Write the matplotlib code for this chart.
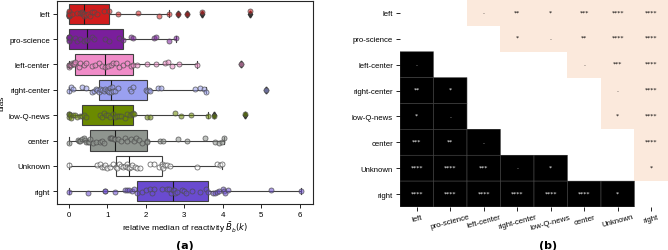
import numpy as np
import matplotlib
matplotlib.use("Agg")
from matplotlib import pyplot as plt
from matplotlib.colors import ListedColormap, to_rgba

plt.rcParams['font.family'] = ['Liberation Sans', 'DejaVu Sans']

biases = ['left', 'pro-science', 'left-center', 'right-center',
          'low-Q-news', 'center', 'Unknown', 'right']
colors = ['#d01c1c', '#7a1e9c', '#f08cc8', '#9aa0f0',
          '#6b8a00', '#8f958f', '#ffffff', '#6a4bd0']

# relative median of reactivity per bias
left_vals = [0, 0, 0, 0, 0, 0.005, 0.01, 0.01, 0.01,
             0.08, 0.2, 0.3, 0.33, 0.35, 0.37, 0.39, 0.4,
             0.45, 0.5, 0.55, 0.6, 0.65, 0.72, 0.9, 1.05,
             1.27, 1.8, 2.35, 2.6, 2.84, 3.06, 3.46, 4.70]
pro_science_vals = [0, 0, 0, 0, 0.01, 0.01, 0.01,
                    0.15, 0.22, 0.3, 0.38, 0.44, 0.48,
                    0.6, 0.65, 0.95, 1.05, 1.3, 1.4,
                    1.6, 1.67, 2.2, 2.25, 2.6, 2.77]
left_center_vals = [0, 0, 0.01, 0.02, 0.05, 0.08, 0.1, 0.12, 0.14, 0.17,
                    0.25, 0.3, 0.38, 0.45, 0.6, 0.68, 0.78, 0.85, 0.93,
                    1.02, 1.1, 1.15, 1.22, 1.3, 1.4, 1.5, 1.6, 1.67,
                    1.76, 2.03, 2.26, 2.49, 2.58, 2.67, 2.86, 3.32, 4.46]
right_center_vals = [0.01, 0.05, 0.1, 0.33, 0.45, 0.6, 0.65, 0.7, 0.72, 0.78,
                     0.8, 0.85, 0.9, 0.95, 1.0, 1.02, 1.05, 1.07, 1.09,
                     1.12, 1.15, 1.2, 1.28, 1.58, 1.62, 1.66, 2.0, 2.03,
                     2.08, 2.1, 2.31, 2.38, 3.27, 3.4, 3.5, 3.55, 5.13]
low_q_news_vals = [0, 0, 0.01, 0.02, 0.05, 0.1, 0.15, 0.2, 0.3, 0.35,
                   0.4, 0.45, 0.8, 0.87, 0.92, 0.97, 1.02, 1.08, 1.14,
                   1.2, 1.25, 1.3, 1.35, 1.45, 1.5, 1.58, 1.63, 1.67,
                   1.7, 2.03, 2.1, 2.75, 2.9, 3.16, 3.62, 3.77, 4.57]
center_vals = [0, 0.24, 0.27, 0.3, 0.35, 0.4, 0.42, 0.45, 0.5, 0.52, 0.55,
               0.62, 0.7, 0.8, 0.85, 0.9, 1.06, 1.1, 1.12, 1.16, 1.19,
               1.28, 1.35, 1.45, 1.5, 1.6, 1.68, 1.75, 1.82, 1.9, 2.02,
               2.04, 2.36, 2.45, 2.84, 3.06, 3.53, 3.8, 3.9, 3.97, 4.02]
unknown_vals = [0, 0.73, 0.8, 0.85, 0.9, 0.95, 1.0, 1.06, 1.15, 1.22,
                1.25, 1.3, 1.35, 1.4, 1.45, 1.5, 1.52, 1.55, 1.57,
                1.6, 1.65, 1.72, 1.78, 1.84, 2.1, 2.2, 2.35, 2.41,
                2.43, 2.45, 2.5, 2.55, 2.62, 3.33, 3.85, 3.92, 3.98]
right_vals = [0, 0.5, 0.93, 0.95, 1.2, 1.45, 1.5, 1.55, 1.65, 1.7, 1.76,
              1.9, 2.0, 2.1, 2.15, 2.2, 2.42, 2.55, 2.6, 2.66, 2.71,
              2.73, 2.75, 2.8, 2.95, 3.0, 3.05, 3.2, 3.4, 3.55, 3.62,
              3.75, 3.8, 3.85, 3.9, 4.0, 4.02, 4.05, 4.12, 5.25, 6.03]

values = [left_vals, pro_science_vals, left_center_vals, right_center_vals,
          low_q_news_vals, center_vals, unknown_vals, right_vals]

# pairwise significance, lower triangle (row i, columns 0..i-1); '' = not tested
sig_lower = [
    [],
    [''],
    ['.', ''],
    ['**', '*', ''],
    ['*', '.', '', ''],
    ['***', '**', '.', '', ''],
    ['****', '****', '***', '.', '*', ''],
    ['****', '****', '****', '****', '****', '****', '*'],
]

fig = plt.figure(figsize=(6.68, 2.51), dpi=100)
ax = fig.add_axes([0.0853, 0.1833, 0.3832, 0.8088])
ax2 = fig.add_axes([0.5988, 0.1713, 0.4012, 0.8247])

# ---- (a) box + strip plot
pos = np.arange(len(biases))
bp = ax.boxplot(values, positions=pos, orientation='horizontal', widths=0.8,
                patch_artist=True, capwidths=0.25,
                boxprops=dict(edgecolor='0.25', linewidth=0.8),
                whiskerprops=dict(color='0.25', linewidth=0.8),
                capprops=dict(color='0.25', linewidth=0.8),
                medianprops=dict(color='0.1', linewidth=0.8),
                flierprops=dict(marker='d', markerfacecolor='0.2',
                                markeredgecolor='0.2', markersize=3.5))
for patch, c in zip(bp['boxes'], colors):
    patch.set_facecolor(c)

rng = np.random.default_rng(7)
for i, (vals, c) in enumerate(zip(values, colors)):
    jit = rng.uniform(-0.1, 0.1, len(vals))
    ax.scatter(vals, i + jit, s=13, facecolor=to_rgba(c, 0.55),
               edgecolor=to_rgba('0.3', 0.8), linewidth=0.6, zorder=3)

ax.set_yticks(pos)
ax.set_yticklabels(biases, fontsize=5.7)
ax.set_ylim(7.5, -0.5)
ax.set_xlim(-0.31, 6.34)
ax.set_xticks(range(7))
ax.tick_params(axis='x', labelsize=5.7, length=3, width=0.6, pad=2)
ax.tick_params(axis='y', length=3, width=0.6, pad=2)
for s in ax.spines.values():
    s.set_linewidth(0.8)
    s.set_color('0.15')
ax.set_ylabel('bias', fontsize=6)
ax.yaxis.set_label_coords(-0.2, 0.5)
ax.set_xlabel(r'relative median of reactivity $\bar{B}_b(k)$', fontsize=6,
              labelpad=1)

# ---- (b) significance matrix
n = len(biases)
kind = np.zeros((n, n))
stars = [['' for _ in range(n)] for _ in range(n)]
for i, row in enumerate(sig_lower):
    for j, s in enumerate(row):
        if s:
            kind[i, j] = 1
            kind[j, i] = 2
            stars[i][j] = s
            stars[j][i] = s

edges = np.arange(n + 1)
cmap = ListedColormap(['#ffffff', '#000000', '#fbe9dc'])
ax2.pcolormesh(edges, edges, kind, cmap=cmap, vmin=-0.5, vmax=2.5)
lower = np.ma.masked_where(kind != 1, kind)
ax2.pcolor(edges, edges, lower, cmap=ListedColormap(['#000000']),
           edgecolors='0.3', linewidth=0.4)
for i in range(n):
    for j in range(n):
        if stars[i][j]:
            ax2.text(j + 0.5, i + 0.45, stars[i][j], ha='center', va='center',
                     fontsize=4.5, family='DejaVu Sans',
                     color='white' if kind[i, j] == 1 else 'black')

ax2.set_xlim(0, n)
ax2.set_ylim(n, 0)
ax2.set_xticks(edges[:-1] + 0.5)
ax2.set_xticklabels(biases, rotation=15, fontsize=5.6)
ax2.set_yticks(edges[:-1] + 0.5)
ax2.set_yticklabels(biases, fontsize=5.6)
ax2.tick_params(axis='x', length=3, width=0.6, pad=1.5)
ax2.tick_params(axis='y', length=3, width=0.6, pad=2)
for s in ax2.spines.values():
    s.set_visible(False)

fig.text(0.277, 0.02, '(a)', ha='center', va='center', fontsize=8,
         fontweight='bold', family='DejaVu Sans')
fig.text(0.82, 0.02, '(b)', ha='center', va='center', fontsize=8,
         fontweight='bold', family='DejaVu Sans')

fig.savefig('out.png', dpi=100)
